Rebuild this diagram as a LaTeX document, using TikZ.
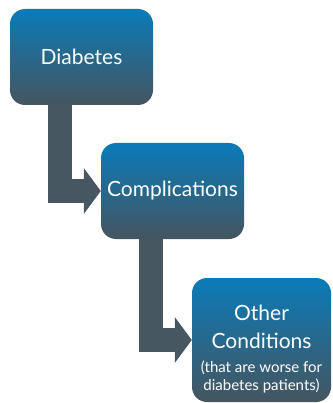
\documentclass[tikz,border=0pt]{standalone}
\usepackage{fontspec}
\setmainfont{Lato}
\usetikzlibrary{arrows.meta}
\definecolor{boxtop}{HTML}{0A7BB9}
\definecolor{boxbot}{HTML}{45555F}
\definecolor{arrowgray}{HTML}{465762}
\newcommand{\smalltxt}{\fontsize{15}{18}\selectfont}

\begin{document}
\begin{tikzpicture}[x=1pt, y=-1pt,
  stagebox/.style={rounded corners=15pt, top color=boxtop, bottom color=boxbot,
    text=white, align=center, inner sep=0pt, minimum width=143pt, minimum height=96pt,
    font=\fontsize{21}{28}\selectfont},
  elbow/.style={draw=arrowgray, line width=24.5pt,
    -{Triangle[length=17pt, width=45pt]}}]

  \useasboundingbox (0,0) rectangle (332,403);

  \node[stagebox] (diab) at (81.5, 57) {Diabetes};
  \node[stagebox] (comp) at (172.5, 191) {Complications};
  \node[stagebox, minimum width=139pt, minimum height=124pt] (other) at (261.5, 340)
    {\rule{0pt}{33pt}Other\\ Conditions\\[-4pt] {\smalltxt (that are worse for}\\[-10pt]
     {\smalltxt diabetes patients)}};

  \draw[elbow] ([xshift=50pt]diab.south west) |- (comp.west); %% diab->comp
  \draw[elbow] ([xshift=50pt]comp.south west) |- (other.west); %% comp->other
\end{tikzpicture}
\end{document}
